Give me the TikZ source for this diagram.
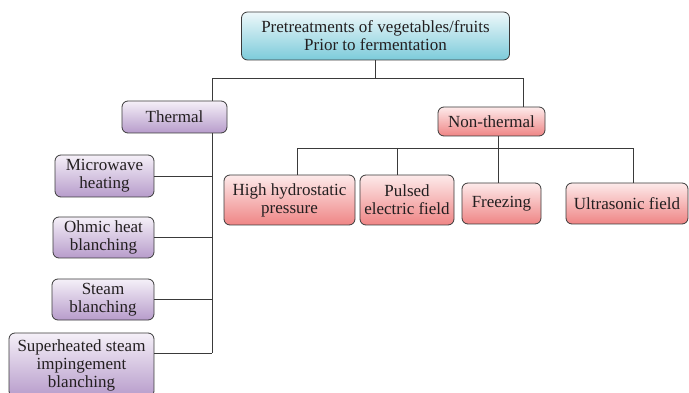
\documentclass[tikz,border=0pt]{standalone}
\usepackage{fontspec}
\setmainfont{Liberation Serif}
\newfontfamily\boxfont{Liberation Serif}
\definecolor{txt}{HTML}{231F20}
\definecolor{edge}{HTML}{3A3A3A}
\definecolor{cyanB}{HTML}{7CCBDA}
\definecolor{cyanT}{HTML}{EEF8FA}
\definecolor{purB}{HTML}{B79CCB}
\definecolor{purT}{HTML}{F5F0F8}
\definecolor{redB}{HTML}{EF8585}
\definecolor{redT}{HTML}{FDEAEA}
\begin{document}
\begin{tikzpicture}[x=1pt,y=-1pt,
  box/.style={draw=edge, line width=0.8pt, rounded corners=6pt, inner sep=0pt,
    align=center, text=txt, font=\boxfont\fontsize{17}{18}\selectfont},
  cyanbox/.style={box, top color=cyanT, bottom color=cyanB},
  purbox/.style={box, top color=purT, bottom color=purB},
  redbox/.style={box, top color=redT, bottom color=redB},
  conn/.style={draw=edge, line width=0.8pt}]
\useasboundingbox (0,0) rectangle (689,393);
% top
\node[cyanbox, minimum width=268pt, minimum height=48pt] (top) at (375.5,36) {Pretreatments of vegetables/fruits\\Prior to fermentation};
% level 1
\node[purbox, minimum width=105pt, minimum height=32pt] (thermal) at (174.5,117) {Thermal};
\node[redbox, minimum width=107pt, minimum height=29pt] (nt) at (491.5,121.5) {Non-thermal};
% thermal children
\node[purbox, minimum width=99pt, minimum height=42pt] (micro) at (104.5,176) {Microwave\\heating};
\node[purbox, minimum width=101pt, minimum height=41pt] (ohmic) at (103.5,237.5) {Ohmic heat\\blanching};
\node[purbox, minimum width=102pt, minimum height=41pt] (steam) at (103,299.5) {Steam\\blanching};
\node[purbox, minimum width=145pt, minimum height=64pt] (super) at (81.5,365) {Superheated steam\\impingement\\blanching};
% non-thermal children
\node[redbox, minimum width=131pt, minimum height=50pt] (hhp) at (289.5,200) {High hydrostatic\\pressure};
\node[redbox, minimum width=94pt, minimum height=50pt] (pef) at (407,200) {Pulsed\\electric field};
\node[redbox, minimum width=79pt, minimum height=41pt] (frz) at (501.5,203.5) {Freezing};
\node[redbox, minimum width=122pt, minimum height=41pt] (ult) at (627,203.5) {Ultrasonic field};
% junction coordinates
\coordinate (hl) at (212,78);
\coordinate (hr) at (523,78);
\coordinate (tb) at (212,353);
\coordinate (v1) at (297,148);
\coordinate (v2) at (397,148);
\coordinate (v3) at (498,148);
\coordinate (v4) at (633,148);
% connectors
\draw[conn] (top.south) -- (top.south |- hl);
\draw[conn] (thermal.north -| hl) -- (hl) -- (hr) -- (hr |- nt.north);
\draw[conn] (thermal.south -| hl) -- (tb);
\draw[conn] (micro.east) -- (micro.east -| tb);
\draw[conn] (ohmic.east) -- (ohmic.east -| tb);
\draw[conn] (steam.east) -- (steam.east -| tb);
\draw[conn] (super.east |- tb) -- (tb);
\draw[conn] (v1 |- hhp.north) -- (v1) -- (v4) -- (v4 |- ult.north);
\draw[conn] (v2) -- (v2 |- pef.north);
\draw[conn] (v3 |- nt.south) -- (v3 |- frz.north);
\end{tikzpicture}
\end{document}
